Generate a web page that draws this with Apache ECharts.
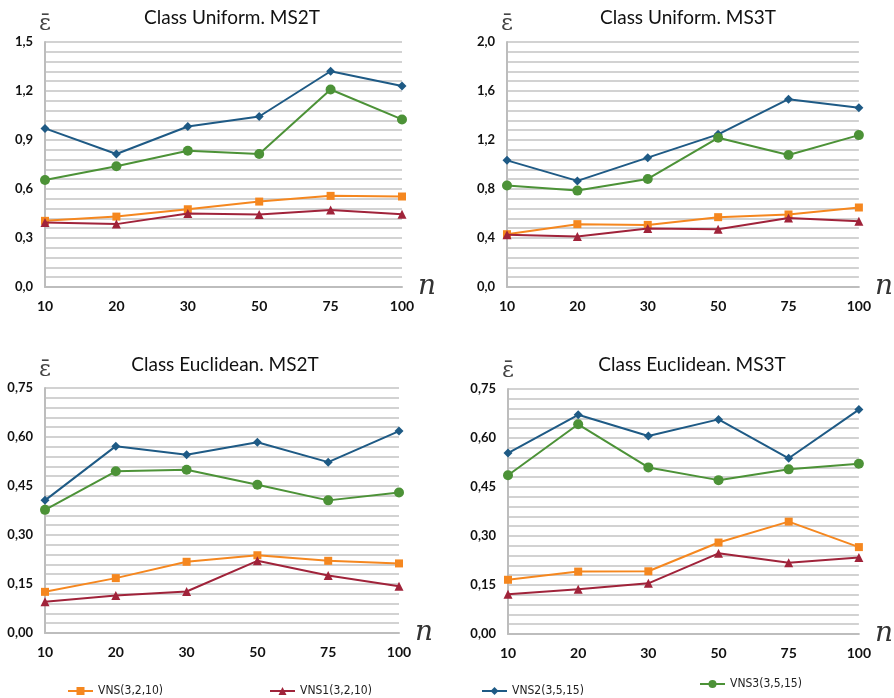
<!DOCTYPE html>
<html>
<head>
<meta charset="utf-8">
<script src="https://cdn.jsdelivr.net/npm/echarts@6/dist/echarts.min.js"></script>
<style>
html,body{margin:0;padding:0;background:#fff;}
#chart{width:894px;height:698px;}
</style>
</head>
<body>
<div id="chart"></div>
<script>
const categories = ['10', '20', '30', '50', '75', '100'];
const seriesNames = ['VNS(3,2,10)', 'VNS1(3,2,10)', 'VNS2(3,5,15)', 'VNS3(3,5,15)'];
const panelTitles = ['Class Uniform. MS2T', 'Class Uniform. MS3T', 'Class Euclidean. MS2T', 'Class Euclidean. MS3T'];

// Class Uniform. MS2T
const uniMS2T_VNS  = [0.405, 0.431, 0.476, 0.523, 0.558, 0.554];
const uniMS2T_VNS1 = [0.395, 0.385, 0.450, 0.444, 0.472, 0.446];
const uniMS2T_VNS2 = [0.971, 0.814, 0.983, 1.044, 1.321, 1.231];
const uniMS2T_VNS3 = [0.655, 0.739, 0.834, 0.814, 1.209, 1.026];

// Class Uniform. MS3T
const uniMS3T_VNS  = [0.431, 0.513, 0.507, 0.570, 0.592, 0.649];
const uniMS3T_VNS1 = [0.426, 0.412, 0.478, 0.472, 0.564, 0.537];
const uniMS3T_VNS2 = [1.034, 0.866, 1.056, 1.246, 1.533, 1.463];
const uniMS3T_VNS3 = [0.828, 0.787, 0.882, 1.218, 1.077, 1.240];

// Class Euclidean. MS2T
const eucMS2T_VNS  = [0.126, 0.168, 0.218, 0.238, 0.221, 0.213];
const eucMS2T_VNS1 = [0.096, 0.115, 0.127, 0.221, 0.176, 0.143];
const eucMS2T_VNS2 = [0.406, 0.572, 0.546, 0.584, 0.523, 0.618];
const eucMS2T_VNS3 = [0.377, 0.495, 0.500, 0.454, 0.406, 0.430];

// Class Euclidean. MS3T
const eucMS3T_VNS  = [0.166, 0.191, 0.192, 0.280, 0.344, 0.266];
const eucMS3T_VNS1 = [0.122, 0.137, 0.155, 0.247, 0.218, 0.234];
const eucMS3T_VNS2 = [0.554, 0.671, 0.606, 0.657, 0.538, 0.687];
const eucMS3T_VNS3 = [0.486, 0.642, 0.510, 0.471, 0.504, 0.521];

// y axis ticks per panel
const yMax      = [1.5, 2.0, 0.75, 0.75];
const yInterval = [0.3, 0.4, 0.15, 0.15];
const yDecimals = [1, 1, 2, 2];

const panelData = [
  [uniMS2T_VNS, uniMS2T_VNS1, uniMS2T_VNS2, uniMS2T_VNS3],
  [uniMS3T_VNS, uniMS3T_VNS1, uniMS3T_VNS2, uniMS3T_VNS3],
  [eucMS2T_VNS, eucMS2T_VNS1, eucMS2T_VNS2, eucMS2T_VNS3],
  [eucMS3T_VNS, eucMS3T_VNS1, eucMS3T_VNS2, eucMS3T_VNS3]
];

const colors  = ['#F5871F', '#A0233A', '#1E5A85', '#4C9237'];
const symbols = ['rect', 'triangle', 'diamond', 'circle'];
const symSizes = [8, 9, 9, 10];

const grids = [
  {left: 45,  top: 42,  width: 357, height: 245},
  {left: 507, top: 42,  width: 359, height: 245},
  {left: 45,  top: 388, width: 354, height: 245},
  {left: 508, top: 389, width: 354, height: 245}
];
const titlePos = [[227, 3], [683, 3], [220, 350], [687, 350]];

const chart = echarts.init(document.getElementById('chart'));
const option = {
  backgroundColor: '#fff',
  animation: false,
  title: panelTitles.map((t, i) => ({
    text: t, left: titlePos[i][0], top: titlePos[i][1], textAlign: 'center',
    textStyle: {fontFamily: 'Lato', fontWeight: 'normal', fontSize: 19, color: '#111'}
  })),
  grid: grids,
  xAxis: grids.map((g, i) => ({
    type: 'category', gridIndex: i, data: categories, boundaryGap: false,
    name: 'n', nameLocation: 'end', nameGap: 8,
    nameTextStyle: {fontFamily: 'DejaVu Serif', fontStyle: 'italic', fontSize: 28, color: '#333'},
    axisLine: {show: true, lineStyle: {color: '#bdbdbd', width: 2}},
    axisTick: {show: false},
    axisLabel: {interval: 0, margin: 12, fontFamily: 'Lato', fontWeight: 'bold', fontSize: 14, color: '#111'},
    splitLine: {show: false}
  })),
  yAxis: grids.map((g, i) => ({
    type: 'value', gridIndex: i, min: 0, max: yMax[i], interval: yInterval[i],
    name: 'ε\u0304', nameLocation: 'end', nameGap: 6,
    nameTextStyle: {fontFamily: 'DejaVu Serif', fontSize: 23, color: '#444', align: 'center'},
    axisLine: {show: true, lineStyle: {color: '#bdbdbd', width: 2}},
    axisTick: {show: false},
    axisLabel: {margin: 12, fontFamily: 'Lato', fontWeight: 'bold', fontSize: 13, color: '#111',
      formatter: v => v.toFixed(yDecimals[i]).replace('.', ',')},
    splitLine: {show: true, lineStyle: {color: '#d2d2d2', width: 2}},
    minorTick: {show: false, splitNumber: 5},
    minorSplitLine: {show: true, lineStyle: {color: '#d2d2d2', width: 2}}
  })),
  legend: [
    {name: seriesNames[0], left: 62, top: 680},
    {name: seriesNames[1], left: 264, top: 680},
    {name: seriesNames[2], left: 476, top: 680},
    {name: seriesNames[3], left: 694, top: 673}
  ].map(l => ({
    data: [l.name], left: l.left, top: l.top, itemWidth: 25, itemHeight: 10, itemGap: 6,
    textStyle: {fontFamily: "'DejaVu Sans Condensed', Roboto, sans-serif", fontSize: 12, color: '#222'}
  })),
  series: []
};

panelData.forEach((arrs, p) => {
  arrs.forEach((arr, s) => {
    option.series.push({
      name: seriesNames[s], type: 'line', xAxisIndex: p, yAxisIndex: p,
      data: arr, symbol: symbols[s], symbolSize: symSizes[s],
      itemStyle: {color: colors[s]},
      lineStyle: {color: colors[s], width: 2},
      z: 3 + s
    });
  });
});

chart.setOption(option);
</script>
</body>
</html>
